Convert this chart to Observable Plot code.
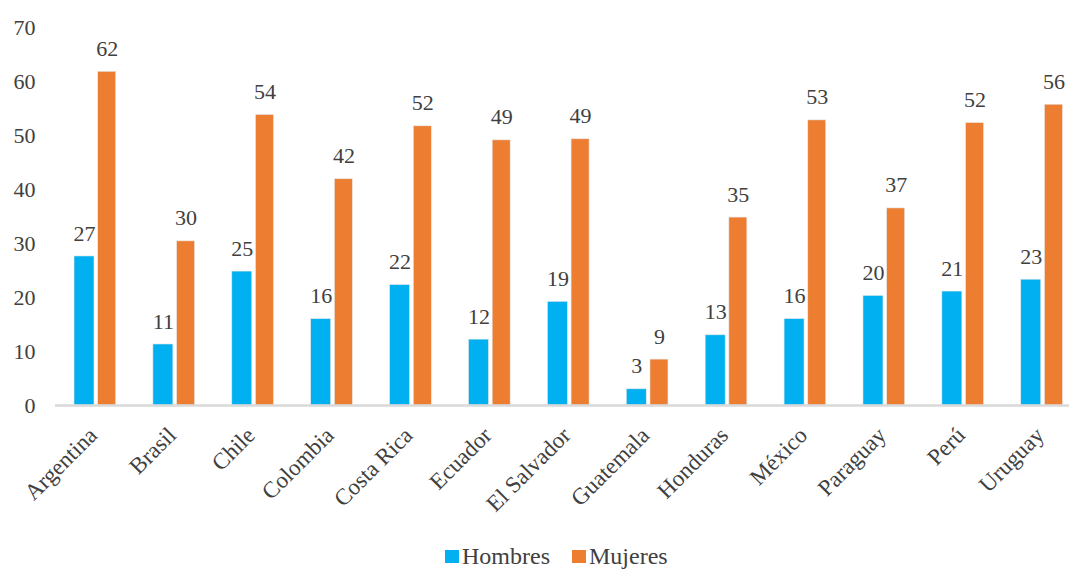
<!DOCTYPE html>
<html>
<head>
<meta charset="utf-8">
<script src="https://cdn.jsdelivr.net/npm/d3@7"></script>
<script src="https://cdn.jsdelivr.net/npm/@observablehq/plot@0.6"></script>
<style>
  html, body { margin: 0; padding: 0; background: #fff; }
  #chart { position: relative; width: 1069px; height: 569px; overflow: hidden; font-family: "Liberation Serif", serif; color: #404040; }
  #chart svg text { font-family: "Liberation Serif", serif; }
  #legend { position: absolute; left: 445px; top: 541px; display: flex; align-items: center; font-size: 24px; line-height: 30px; }
  .sw { display: inline-block; width: 14px; height: 13px; margin-right: 3px; }
  .item { display: flex; align-items: center; margin-right: 22px; }
</style>
</head>
<body>
<div id="chart"></div>
<script>
const countries = ["Argentina","Brasil","Chile","Colombia","Costa Rica","Ecuador","El Salvador","Guatemala","Honduras","México","Paraguay","Perú","Uruguay"];
const hombres = [27.6, 11.3, 24.8, 16.0, 22.3, 12.2, 19.2, 3.0, 13.0, 16.0, 20.3, 21.1, 23.3];
const mujeres = [61.8, 30.4, 53.8, 41.9, 51.7, 49.1, 49.3, 8.5, 34.8, 52.8, 36.5, 52.3, 55.7];
const hombresLabels = ["27","11","25","16","22","12","19","3","13","16","20","21","23"];
const mujeresLabels = ["62","30","54","42","52","49","49","9","35","53","37","52","56"];
const yTicks = [0, 10, 20, 30, 40, 50, 60, 70];
const seriesNames = ["Hombres", "Mujeres"];
const seriesColors = ["#00B0F0", "#ED7D31"];

const dataH = countries.map((c, i) => ({country: c, value: hombres[i], label: hombresLabels[i]}));
const dataM = countries.map((c, i) => ({country: c, value: mujeres[i], label: mujeresLabels[i]}));

const FF = "Liberation Serif";

const plot = Plot.plot({
  width: 1069,
  height: 541,
  marginTop: 27,
  marginBottom: 136,
  marginLeft: 55,
  marginRight: 0,
  style: {fontFamily: FF, fontSize: "22px", color: "#404040", background: "transparent"},
  x: {domain: countries, range: [56.35, 1082], padding: 0, round: false, label: null},
  y: {domain: [0, 70], label: null},
  marks: [
    Plot.barY(dataH, {x: "country", y: "value", fill: seriesColors[0], stroke: "#e8e8e8", strokeWidth: 0.6, insetLeft: 17.65, insetRight: 41.25}),
    Plot.barY(dataM, {x: "country", y: "value", fill: seriesColors[1], stroke: "#e8e8e8", strokeWidth: 0.6, insetLeft: 41.35, insetRight: 19.55}),
    Plot.ruleY([0], {stroke: "#d9d9d9", strokeWidth: 2.5}),
    Plot.text(dataH, {x: "country", y: "value", text: "label", dx: -11.8, dy: -23, fill: "#404040", fontSize: 22, fontFamily: FF}),
    Plot.text(dataM, {x: "country", y: "value", text: "label", dx: 10.9, dy: -23, fill: "#404040", fontSize: 22, fontFamily: FF}),
    Plot.axisY({ticks: yTicks, tickSize: 0, tickPadding: 20, tickFormat: d => String(d), fill: "#404040", fontSize: 22, fontFamily: FF}),
    Plot.axisX({tickSize: 0, tickRotate: -45, tickPadding: 14, dx: -3, dy: 12, fill: "#404040", fontSize: 23, fontFamily: FF})
  ]
});

const chart = document.getElementById("chart");
chart.appendChild(plot);

const legend = document.createElement("div");
legend.id = "legend";
seriesNames.forEach((name, i) => {
  const item = document.createElement("span");
  item.className = "item";
  const sw = document.createElement("span");
  sw.className = "sw";
  sw.style.background = seriesColors[i];
  item.appendChild(sw);
  item.appendChild(document.createTextNode(name));
  legend.appendChild(item);
});
chart.appendChild(legend);
</script>
</body>
</html>
